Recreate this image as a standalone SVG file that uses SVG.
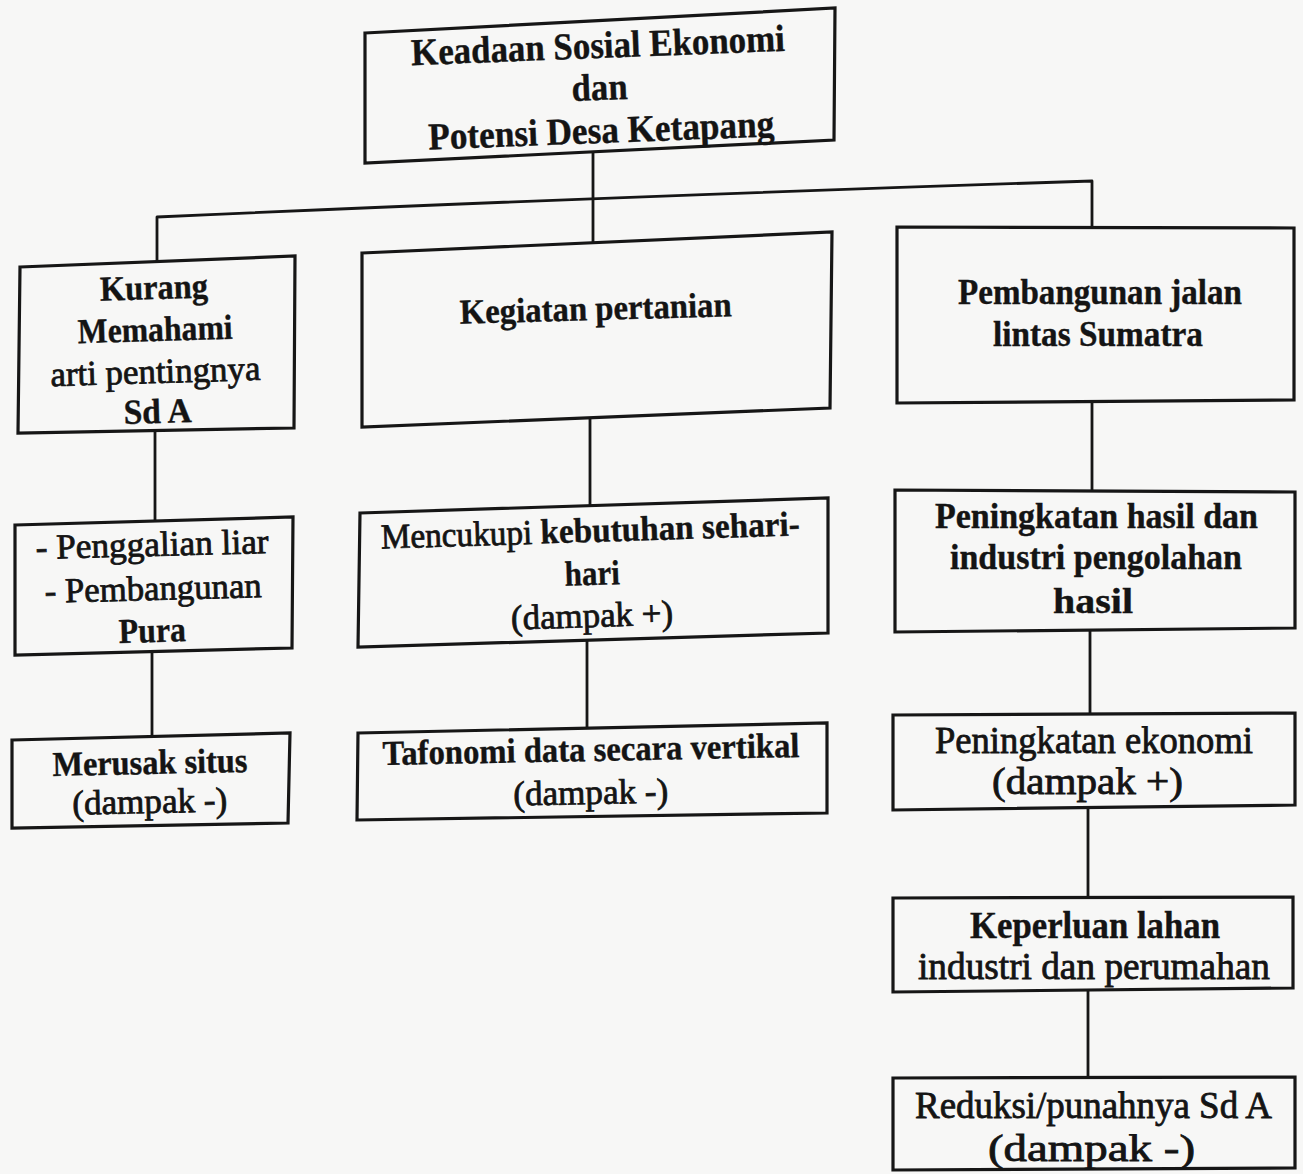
<svg xmlns="http://www.w3.org/2000/svg" width="1303" height="1174" viewBox="0 0 1303 1174">
<style>
.bg{fill:#f7f7f6}
.box{fill:none;stroke:#161616;stroke-width:3.2;stroke-linejoin:miter}
.conn{fill:none;stroke:#161616;stroke-width:2.8;stroke-linejoin:round}
.t{font-family:"Liberation Serif","Times New Roman",serif;font-weight:bold;text-anchor:middle;fill:#141414;stroke:#141414;stroke-width:0.4px}
.r{font-weight:normal;stroke-width:0.8px}
.s1{font-size:38px}
.s2{font-size:35px}
.s3{font-size:36px}
.s4{font-size:37px}
</style>
<rect class="bg" x="0" y="0" width="1303" height="1174"/>
<g id="connectors">
<path class="conn" d="M157,262 L157,217 Q600,197 1092,181 L1092,227"/>
<line class="conn" x1="593" y1="151" x2="593" y2="243"/>
<line class="conn" x1="155" y1="431" x2="155" y2="520"/>
<line class="conn" x1="152" y1="651" x2="152" y2="737"/>
<line class="conn" x1="590" y1="417" x2="590" y2="506"/>
<line class="conn" x1="587" y1="640" x2="587" y2="728"/>
<line class="conn" x1="1092" y1="401" x2="1092" y2="491"/>
<line class="conn" x1="1090" y1="630" x2="1090" y2="714"/>
<line class="conn" x1="1088" y1="807" x2="1088" y2="897"/>
<line class="conn" x1="1088" y1="990" x2="1088" y2="1077"/>
</g>
<g id="n-top">
<polygon class="box" points="365,33 835,8 834,140 365,163"/>
<g transform="rotate(-2.2 600 100)">
<text class="t s1" x="600" y="58" textLength="374" lengthAdjust="spacingAndGlyphs">Keadaan Sosial Ekonomi</text>
<text class="t s1" x="600" y="100" textLength="56" lengthAdjust="spacingAndGlyphs">dan</text>
<text class="t s1" x="600" y="143" textLength="346" lengthAdjust="spacingAndGlyphs">Potensi Desa Ketapang</text>
</g>
</g>
<g id="n-kurang">
<polygon class="box" points="20,267 295,256 294,428 18,433"/>
<g transform="rotate(-1.7 156 360)">
<text class="t s2" x="156" y="299" textLength="108" lengthAdjust="spacingAndGlyphs">Kurang</text>
<text class="t s2" x="156" y="341" textLength="155" lengthAdjust="spacingAndGlyphs">Memahami</text>
<text class="t s2 r" x="155" y="383" textLength="210" lengthAdjust="spacingAndGlyphs">arti pentingnya</text>
<text class="t s2" x="156" y="423" textLength="68" lengthAdjust="spacingAndGlyphs">Sd A</text>
</g>
</g>
<g id="n-kegiatan">
<polygon class="box" points="362,253 832,232 830,408 362,427"/>
<text class="t s2" x="596" y="320" textLength="272" lengthAdjust="spacingAndGlyphs" transform="rotate(-1.6 596 320)">Kegiatan pertanian</text>
</g>
<g id="n-pembangunan">
<polygon class="box" points="897,227 1294,228 1294,400 897,403"/>
<text class="t s3" x="1100" y="304" textLength="284" lengthAdjust="spacingAndGlyphs">Pembangunan jalan</text>
<text class="t s3" x="1098" y="346" textLength="210" lengthAdjust="spacingAndGlyphs">lintas Sumatra</text>
</g>
<g id="n-penggalian">
<polygon class="box" points="15,525 293,517 292,648 15,655"/>
<g transform="rotate(-1.5 153 600)">
<text class="t s2 r" x="153.5" y="556" textLength="233" lengthAdjust="spacingAndGlyphs">- Penggalian liar</text>
<text class="t s2 r" x="153.5" y="600" textLength="217" lengthAdjust="spacingAndGlyphs">- Pembangunan</text>
<text class="t s2" x="151.5" y="642" textLength="67" lengthAdjust="spacingAndGlyphs">Pura</text>
</g>
</g>
<g id="n-mencukupi">
<polygon class="box" points="360,513 828,498 828,633 358,647"/>
<g transform="rotate(-1.8 592 585)">
<text class="t s2" x="592" y="542" textLength="419" lengthAdjust="spacingAndGlyphs"><tspan class="r">Mencukupi </tspan>kebutuhan sehari-</text>
<text class="t s2" x="592.5" y="585" textLength="55" lengthAdjust="spacingAndGlyphs">hari</text>
<text class="t s2 r" x="591" y="627" textLength="162" lengthAdjust="spacingAndGlyphs">(dampak +)</text>
</g>
</g>
<g id="n-peningkatan-hasil">
<polygon class="box" points="895,490 1295,492 1295,628 895,632"/>
<text class="t s3" x="1096.5" y="528" textLength="323" lengthAdjust="spacingAndGlyphs">Peningkatan hasil dan</text>
<text class="t s3" x="1096" y="569" textLength="292" lengthAdjust="spacingAndGlyphs">industri pengolahan</text>
<text class="t s3" x="1093" y="613" textLength="80" lengthAdjust="spacingAndGlyphs">hasil</text>
</g>
<g id="n-merusak">
<polygon class="box" points="12,740 290,733 288,823 12,828"/>
<g transform="rotate(-1.2 150 792)">
<text class="t s2" x="150.5" y="774" textLength="195" lengthAdjust="spacingAndGlyphs">Merusak situs</text>
<text class="t s2 r" x="149.5" y="813" textLength="155" lengthAdjust="spacingAndGlyphs">(dampak -)</text>
</g>
</g>
<g id="n-tafonomi">
<polygon class="box" points="358,733 827,723 827,813 357,820"/>
<g transform="rotate(-1.1 591 780)">
<text class="t s2" x="591.5" y="761" textLength="417" lengthAdjust="spacingAndGlyphs">Tafonomi data secara vertikal</text>
<text class="t s2 r" x="590.5" y="804" textLength="155" lengthAdjust="spacingAndGlyphs">(dampak -)</text>
</g>
</g>
<g id="n-ekonomi">
<polygon class="box" points="893,715 1295,713 1295,805 893,810"/>
<text class="t s4 r" x="1094" y="753" textLength="318" lengthAdjust="spacingAndGlyphs">Peningkatan ekonomi</text>
<text class="t s4 r" x="1087.5" y="794" textLength="191" lengthAdjust="spacingAndGlyphs">(dampak +)</text>
</g>
<g id="n-keperluan">
<polygon class="box" points="893,898 1293,897 1293,988 893,992"/>
<text class="t s4" x="1095" y="938" textLength="250" lengthAdjust="spacingAndGlyphs">Keperluan lahan</text>
<text class="t s4 r" x="1094" y="979" textLength="352" lengthAdjust="spacingAndGlyphs">industri dan perumahan</text>
</g>
<g id="n-reduksi">
<polygon class="box" points="893,1078 1295,1077 1295,1168 893,1170"/>
<text class="t s4 r" x="1093.5" y="1118" textLength="357" lengthAdjust="spacingAndGlyphs">Reduksi/punahnya Sd A</text>
<text class="t s4 r" x="1091.5" y="1161" textLength="207" lengthAdjust="spacingAndGlyphs">(dampak -)</text>
</g>
</svg>
